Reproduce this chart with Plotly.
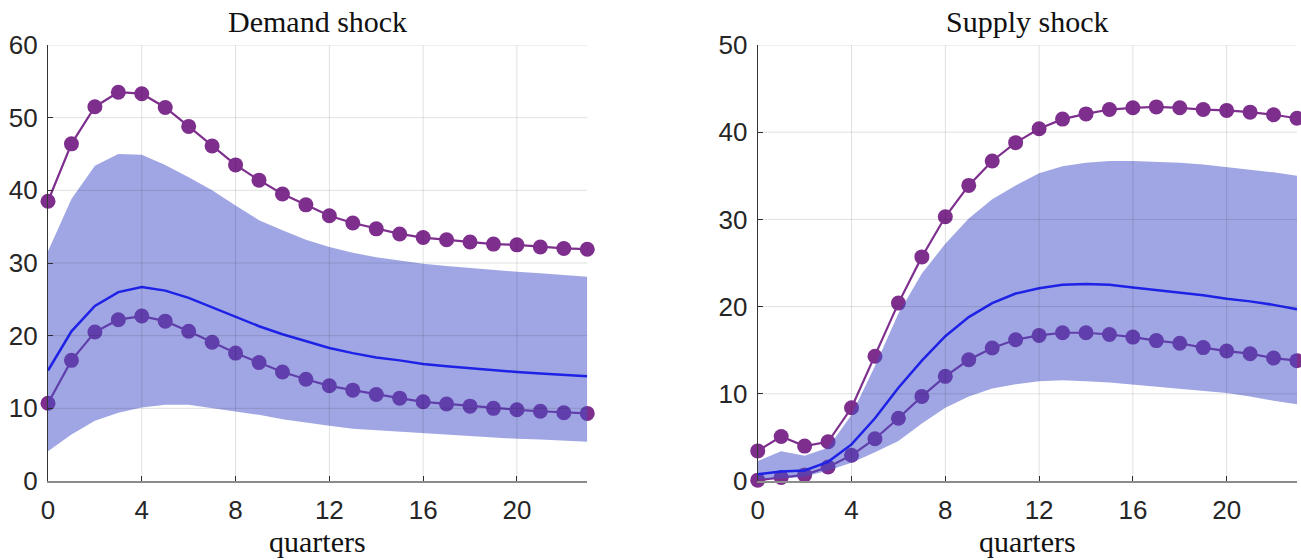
import plotly.graph_objects as go
from plotly.subplots import make_subplots

# Horizon (quarters after the shock)
quarters = list(range(24))

# Demand shock responses
demand_upper = [38.5, 46.4, 51.5, 53.5, 53.3, 51.4, 48.8, 46.1, 43.5, 41.4, 39.5, 38.0,
                36.5, 35.5, 34.7, 34.0, 33.5, 33.2, 32.9, 32.6, 32.5, 32.2, 32.0, 31.9]
demand_lower = [10.7, 16.6, 20.5, 22.2, 22.7, 22.0, 20.6, 19.1, 17.6, 16.3, 15.0, 14.0,
                13.1, 12.5, 11.9, 11.4, 10.9, 10.6, 10.3, 10.0, 9.8, 9.6, 9.4, 9.3]
demand_median = [15.2, 20.6, 24.1, 26.0, 26.7, 26.2, 25.2, 23.9, 22.6, 21.3, 20.2, 19.2,
                 18.3, 17.6, 17.0, 16.6, 16.1, 15.8, 15.5, 15.2, 15.0, 14.8, 14.6, 14.4]
demand_band_hi = [31.6, 38.8, 43.4, 45.0, 44.9, 43.5, 41.8, 40.0, 37.9, 35.9, 34.5, 33.2,
                  32.2, 31.4, 30.8, 30.3, 29.9, 29.6, 29.3, 29.1, 28.8, 28.6, 28.4, 28.1]
demand_band_lo = [4.1, 6.4, 8.3, 9.4, 10.1, 10.5, 10.5, 10.1, 9.6, 9.1, 8.5, 8.0,
                  7.6, 7.2, 7.0, 6.7, 6.5, 6.3, 6.1, 6.0, 5.8, 5.7, 5.6, 5.4]

# Supply shock responses
supply_upper = [3.45, 5.1, 4.0, 4.5, 8.4, 14.3, 20.4, 25.7, 30.3, 33.9, 36.7, 38.8,
                40.4, 41.5, 42.1, 42.6, 42.8, 42.9, 42.8, 42.6, 42.5, 42.3, 42.0, 41.6]
supply_lower = [0.1, 0.4, 0.7, 1.6, 2.95, 4.85, 7.2, 9.7, 12.0, 13.9, 15.25, 16.2,
                16.7, 17.0, 17.0, 16.8, 16.5, 16.1, 15.8, 15.3, 14.9, 14.6, 14.1, 13.8]
supply_median = [0.77, 1.1, 1.2, 2.2, 4.2, 7.2, 10.7, 13.8, 16.6, 18.8, 20.4, 21.5,
                 22.1, 22.5, 22.6, 22.5, 22.2, 21.9, 21.6, 21.3, 20.9, 20.6, 20.2, 19.7]
supply_band_hi = [2.3, 3.4, 2.9, 3.8, 7.6, 13.2, 19.2, 23.8, 27.2, 30.1, 32.3, 33.9,
                  35.3, 36.1, 36.5, 36.7, 36.7, 36.6, 36.5, 36.3, 36.0, 35.7, 35.4, 35.0]
supply_band_lo = [0.2, 0.3, 0.5, 1.2, 2.1, 3.3, 4.6, 6.6, 8.4, 9.7, 10.6, 11.1,
                  11.45, 11.55, 11.45, 11.3, 11.1, 10.85, 10.6, 10.35, 10.1, 9.7, 9.2, 8.8]

panel_titles = ["Demand shock", "Supply shock"]
x_ticks = [0, 4, 8, 12, 16, 20]
y_maxima = [60, 50]

PURPLE = "#7E2F8E"
BAND = "rgba(65,77,199,0.5)"
BLUE = "#1E22E6"
GRID = "rgba(0,0,0,0.12)"

fig = make_subplots(rows=1, cols=2, horizontal_spacing=0.1365)

panels = [
    (demand_upper, demand_lower, demand_median, demand_band_hi, demand_band_lo),
    (supply_upper, supply_lower, supply_median, supply_band_hi, supply_band_lo),
]

for col, (up, lo, med, bhi, blo) in enumerate(panels, start=1):
    for series in (up, lo):
        fig.add_trace(go.Scatter(
            x=quarters, y=series, mode="lines+markers",
            line=dict(color=PURPLE, width=2.2),
            marker=dict(color=PURPLE, size=15),
            cliponaxis=False, showlegend=False, hoverinfo="skip"),
            row=1, col=col)
    # credible band as a closed polygon: upper edge forward, lower edge back
    fig.add_trace(go.Scatter(
        x=quarters + quarters[::-1], y=bhi + blo[::-1],
        mode="lines", fill="toself", fillcolor=BAND, line=dict(width=0),
        showlegend=False, hoverinfo="skip"),
        row=1, col=col)
    fig.add_trace(go.Scatter(
        x=quarters, y=med, mode="lines",
        line=dict(color=BLUE, width=2.5),
        showlegend=False, hoverinfo="skip"),
        row=1, col=col)

axis_common = dict(
    showgrid=False,
    ticks="inside", ticklen=5, tickcolor="#333333", tickwidth=1,
    tickfont=dict(family="Liberation Sans", size=26, color="#262626"),
    zeroline=False, showline=True, layer="above traces",
)

for col, ymax in zip((1, 2), y_maxima):
    fig.update_xaxes(range=[0, 23], tickvals=x_ticks, linecolor="#8c8c8c", linewidth=2,
                     ticklabelstandoff=5, **axis_common, row=1, col=col)
    fig.update_yaxes(range=[0, ymax], dtick=10, linecolor="#333333", linewidth=1.3,
                     ticklabelstandoff=4, **axis_common, row=1, col=col)

# grid drawn on top of the data, like an axes layer set to "top"
for col, ymax in zip((1, 2), y_maxima):
    xr = "x" if col == 1 else "x2"
    yr = "y" if col == 1 else "y2"
    for xv in x_ticks[1:]:
        fig.add_shape(type="line", xref=xr, yref=f"{yr} domain", x0=xv, x1=xv, y0=0, y1=1,
                      line=dict(color=GRID, width=1), layer="above")
    for yv in range(10, ymax + 1, 10):
        fig.add_shape(type="line", xref=f"{xr} domain", yref=yr, x0=0, x1=1, y0=yv, y1=yv,
                      line=dict(color=GRID, width=1), layer="above")

fig.update_layout(
    width=1301, height=560,
    margin=dict(l=48, r=4, t=45, b=79),
    plot_bgcolor="white", paper_bgcolor="white",
)

serif = dict(family="Liberation Serif", size=30, color="#111111")
domains = [fig.layout.xaxis.domain, fig.layout.xaxis2.domain]
for title, dom in zip(panel_titles, domains):
    cx = (dom[0] + dom[1]) / 2
    fig.add_annotation(text=title, x=cx, y=1, xref="paper", yref="paper",
                       xanchor="center", yanchor="bottom", yshift=5,
                       showarrow=False, font=serif)
    fig.add_annotation(text="quarters", x=cx, y=0, xref="paper", yref="paper",
                       xanchor="center", yanchor="top", yshift=-42,
                       showarrow=False, font=serif)

fig.write_html("out.html")
